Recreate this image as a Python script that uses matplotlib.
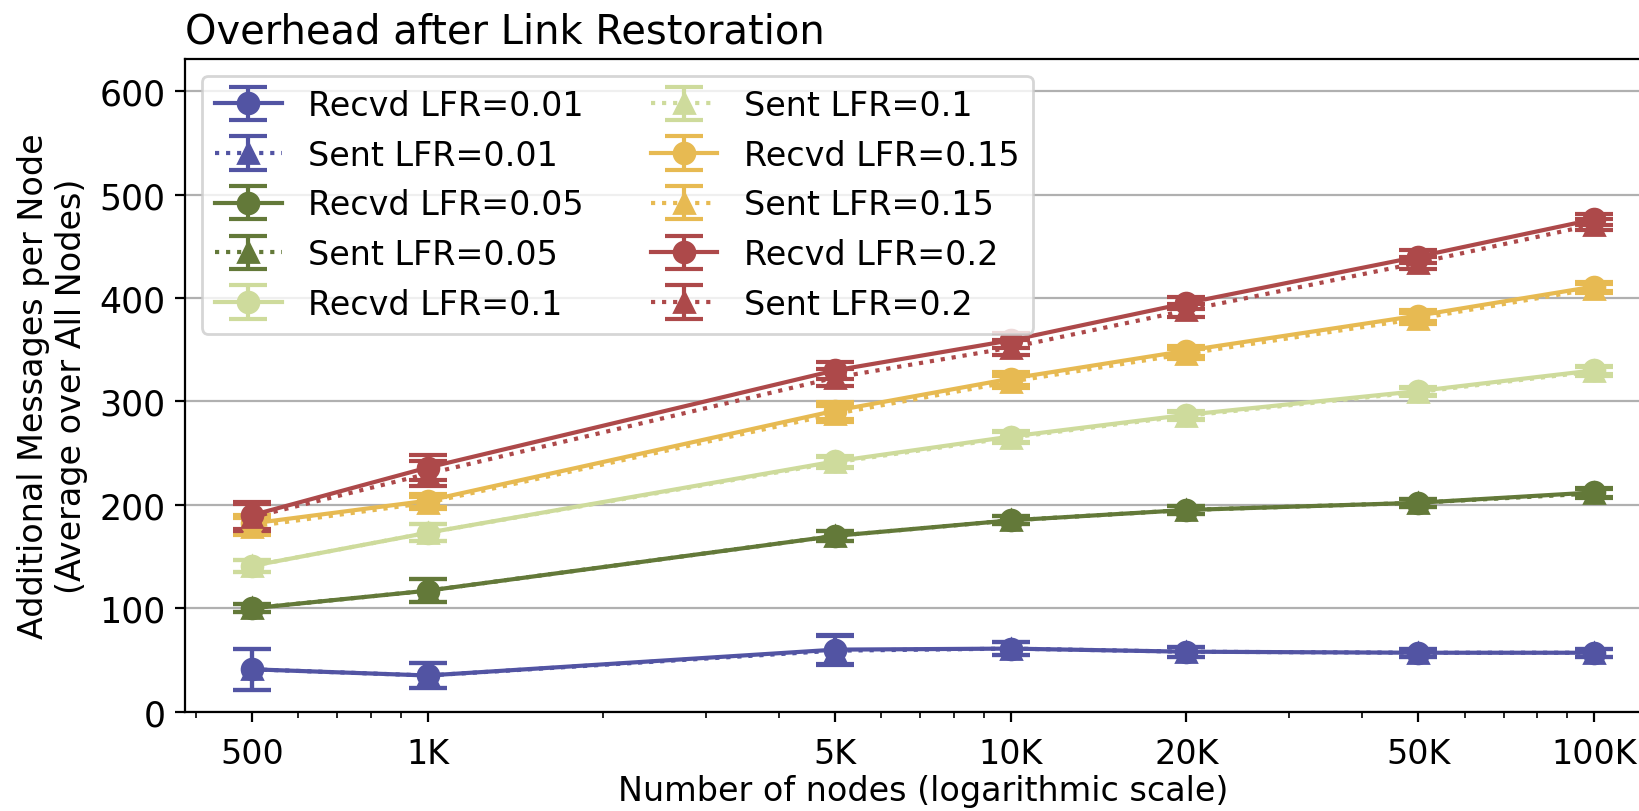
"""Overhead after link restoration: additional messages per node."""

import matplotlib

matplotlib.use("Agg")
import matplotlib.pyplot as plt
from matplotlib.ticker import FixedLocator, FixedFormatter, NullFormatter

NODES = [500, 1000, 5000, 10000, 20000, 50000, 100000]
NODE_LABELS = ["500", "1K", "5K", "10K", "20K", "50K", "100K"]
LFRS = ["0.01", "0.05", "0.1", "0.15", "0.2"]
COLORS = ["#5254a3", "#637939", "#cedb9c", "#e7ba52", "#ad494a"]

# received messages (mean, error) per LFR
RECVD = {
    "0.01": [41, 35, 60, 61, 58, 57, 57],
    "0.05": [100, 117, 170, 185, 195, 202, 212],
    "0.1": [141, 173, 242, 266, 287, 310, 330],
    "0.15": [182, 204, 291, 322, 349, 383, 411],
    "0.2": [190, 236, 330, 359, 395, 440, 476],
}
RECVD_ERR = {
    "0.01": [20, 12, 14, 6, 5, 4, 4],
    "0.05": [4, 11, 5, 4, 4, 4, 4],
    "0.1": [6, 8, 5, 5, 4, 4, 4],
    "0.15": [8, 6, 8, 6, 5, 5, 4],
    "0.2": [13, 12, 8, 7, 6, 6, 5],
}
SENT = {
    "0.01": [41, 35, 59, 61, 58, 57, 57],
    "0.05": [100, 117, 170, 185, 195, 202, 211],
    "0.1": [141, 173, 241, 265, 286, 309, 329],
    "0.15": [179, 202, 288, 319, 346, 380, 409],
    "0.2": [188, 230, 323, 352, 388, 434, 471],
}
SENT_ERR = {
    "0.01": [20, 12, 14, 6, 5, 4, 4],
    "0.05": [4, 11, 5, 4, 4, 4, 4],
    "0.1": [6, 8, 5, 5, 4, 4, 4],
    "0.15": [8, 6, 8, 6, 5, 5, 4],
    "0.2": [13, 12, 8, 7, 6, 6, 5],
}

if __name__ == "__main__":
    plt.rcParams["font.size"] = 12
    plt.rcParams["axes.linewidth"] = 0.8

    fig = plt.figure(figsize=(8.2, 4.06), dpi=200)
    ax = fig.add_axes([185 / 1640, 99.3 / 812, 1476 / 1640, 652.7 / 812])

    for lfr, color in zip(LFRS, COLORS):
        style = dict(color=color, lw=1.5, ms=7.5, capsize=7, capthick=1.5, elinewidth=1.5)
        ax.errorbar(NODES, RECVD[lfr], yerr=RECVD_ERR[lfr], marker="o", ls="-",
                    label=f"Recvd LFR={lfr}", **style)
        ax.errorbar(NODES, SENT[lfr], yerr=SENT_ERR[lfr], marker="^", ls=":",
                    label=f"Sent LFR={lfr}", **style)

    ax.set_xscale("log")
    ax.xaxis.set_major_locator(FixedLocator(NODES))
    ax.xaxis.set_major_formatter(FixedFormatter(NODE_LABELS))
    ax.xaxis.set_minor_formatter(NullFormatter())
    ax.tick_params(axis="x", which="major", pad=5.5)
    ax.tick_params(axis="y", labelsize=12.5)
    ax.set_ylim(0, 631)
    ax.grid(axis="y", color="#b0b0b0", lw=0.8)
    ax.set_axisbelow(True)

    ax.set_title("Overhead after Link Restoration", loc="left", fontsize="large")
    ax.set_xlabel("Number of nodes (logarithmic scale)", labelpad=1.5)
    ax.set_ylabel("Additional Messages per Node\n(Average over All Nodes)")
    ax.legend(ncol=2, loc="upper left")

    fig.savefig("out.png", dpi=200)
